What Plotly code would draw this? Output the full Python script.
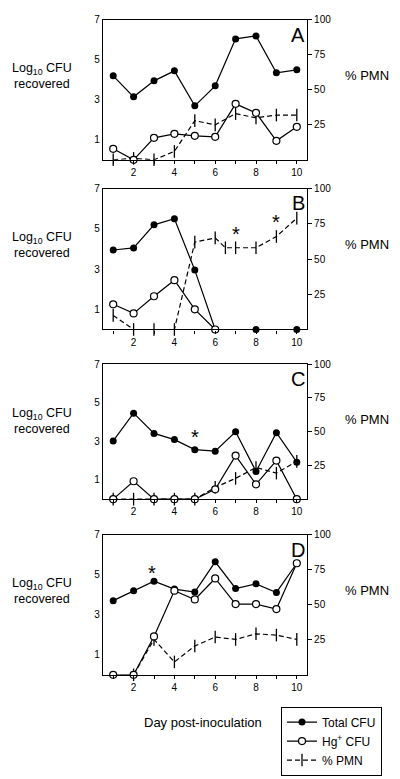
import plotly.graph_objects as go

days = [1, 2, 3, 4, 5, 6, 7, 8, 9, 10]

# Panel A
A_total = [4.2, 3.15, 3.95, 4.45, 2.7, 3.7, 6.05, 6.2, 4.35, 4.5]
A_hg = [0.55, 0.0, 1.1, 1.3, 1.2, 1.15, 2.8, 2.35, 0.95, 1.65]
A_pmn_days = [1, 2, 3, 4, 5, 6, 7, 8, 9, 10]
A_pmn = [0, 1, 0, 6, 28, 25, 33, 30, 32, 32]

# Panel B
B_total = [3.95, 4.05, 5.2, 5.5, 2.95, 0.0, None, 0.0, None, 0.0]
B_hg = [1.25, 0.8, 1.65, 2.45, 1.0, 0.0, None, None, None, None]
B_pmn_days = [1, 2, 3, 4, 5, 6, 6.5, 7, 8, 9, 10]
B_pmn = [10, 0, 0, 0, 62, 65, 58, 58, 58, 66, 79]

# Panel C
C_total = [3.02, 4.46, 3.41, 3.09, 2.57, 2.49, 3.5, 1.44, 3.45, 1.92]
C_hg = [0.0, 0.93, 0.0, 0.0, 0.0, 0.51, 2.26, 0.77, 2.0, 0.0]
C_pmn_days = [1, 2, 3, 4, 5, 6, 7, 8, 9, 10]
C_pmn = [0, 0, 0, 0, 0, 8.8, 15.4, 23.5, 19.3, 28]

# Panel D
D_total = [3.71, 4.21, 4.68, 4.29, 4.14, 5.65, 4.32, 4.55, 4.12, 5.58]
D_hg = [0.0, 0.0, 1.92, 4.21, 3.77, 4.82, 3.54, 3.54, 3.29, 5.58]
D_pmn_days = [2, 3, 4, 5, 6, 7, 8, 9, 10]
D_pmn = [0, 25.3, 9.2, 20.6, 27, 25.3, 29.3, 28.4, 25.3]

panel_letters = ["A", "B", "C", "D"]
# significance stars: (panel index, day, log10 CFU level)
star_panels = [1, 1, 2, 3]
star_days = [7, 9, 5, 2.9]
star_levels = [4.75, 5.35, 3.2, 5.1]

cfu_ticks = [1, 3, 5, 7]
pmn_ticks = [25, 50, 75, 100]

W, H = 400, 779
FONT = "Liberation Sans, Arial, sans-serif"

# panel pixel boxes (top, bottom)
boxes = [(14, 155), (184, 326), (361, 497), (533, 674)]
XL, XR = 103, 307

panels = [
    (A_total, A_hg, A_pmn_days, A_pmn),
    (B_total, B_hg, B_pmn_days, B_pmn),
    (C_total, C_hg, C_pmn_days, C_pmn),
    (D_total, D_hg, D_pmn_days, D_pmn),
]

fig = go.Figure()
layout = dict(
    width=W, height=H,
    margin=dict(l=0, r=0, t=0, b=0),
    paper_bgcolor="white", plot_bgcolor="white",
    font=dict(family=FONT, color="black", size=10),
    showlegend=True,
    legend=dict(
        x=281 / W, y=1 - 706 / H, xanchor="left", yanchor="top",
        bordercolor="black", borderwidth=1, bgcolor="white",
        font=dict(size=12, family=FONT), tracegroupgap=0,
        itemwidth=30,
    ),
)

annotations = []
for i, (tot, hg, pdays, pmn) in enumerate(panels):
    n = i + 1
    xa = "x" if n == 1 else f"x{n}"
    ya_pmn = "y" if n == 1 else f"y{n}"
    ya_cfu = f"y{n + 4}"
    top, bot = boxes[i]
    dom = [1 - bot / H, 1 - top / H]
    first = (i == 0)

    fig.add_trace(go.Scatter(
        x=pdays, y=pmn, xaxis=xa, yaxis=ya_pmn, mode="lines+markers",
        name="% PMN", showlegend=first, legendrank=3,
        line=dict(color="black", width=1.2, dash="5px,3px"),
        marker=dict(symbol="line-ns", size=9, line=dict(color="black", width=1.3)),
        cliponaxis=False,
    ))
    fig.add_trace(go.Scatter(
        x=days, y=tot, xaxis=xa, yaxis=ya_cfu, mode="lines+markers",
        name="Total CFU", showlegend=first, legendrank=1, connectgaps=False,
        line=dict(color="black", width=1.2),
        marker=dict(symbol="circle", size=7, color="black"),
        cliponaxis=False,
    ))
    fig.add_trace(go.Scatter(
        x=days, y=hg, xaxis=xa, yaxis=ya_cfu, mode="lines+markers",
        name="Hg<sup>+</sup> CFU", showlegend=first, legendrank=2, connectgaps=False,
        line=dict(color="black", width=1.2),
        marker=dict(symbol="circle", size=7, color="white", line=dict(color="black", width=1.2)),
        cliponaxis=False,
    ))

    xkey = "xaxis" if n == 1 else f"xaxis{n}"
    layout[xkey] = dict(
        domain=[XL / W, XR / W], anchor=ya_pmn, range=[0.5, 10.5],
        tick0=0, dtick=2, ticks="outside", ticklen=3,
        tickwidth=1, tickcolor="black",
        minor=dict(dtick=1, tick0=0, ticks="outside", ticklen=3, tickwidth=1, tickcolor="black", showgrid=False),
        showline=True, linecolor="black",
        linewidth=1.2, mirror=True, showgrid=False, zeroline=False,
        tickfont=dict(size=10),
    )
    ypkey = "yaxis" if n == 1 else f"yaxis{n}"
    layout[ypkey] = dict(
        domain=dom, anchor=xa, side="right", range=[0, 100],
        tickvals=pmn_ticks, ticks="outside", ticklen=4, tickwidth=1, tickcolor="black",
        showline=True, linecolor="black", linewidth=1.2, showgrid=False,
        zeroline=False, tickfont=dict(size=10),
    )
    layout[f"yaxis{n + 4}"] = dict(
        overlaying=ya_pmn, anchor=xa, side="left", range=[0, 7],
        tickvals=cfu_ticks, ticks="", showline=True, linecolor="black",
        linewidth=1.2, showgrid=False, zeroline=False, tickfont=dict(size=10),
    )

    # panel letter
    annotations.append(dict(
        text=panel_letters[i], xref="paper", yref="paper",
        x=298 / W, y=1 - (top + 15) / H, xanchor="center", yanchor="middle",
        showarrow=False, font=dict(size=20, family=FONT),
    ))
    annotations.append(dict(
        text="Log<sub>10</sub> CFU<br>recovered", xref="paper", yref="paper",
        x=42 / W, y=1 - (top + 57) / H, xanchor="center", yanchor="middle",
        showarrow=False, font=dict(size=12.5, family=FONT), align="center",
    ))
    annotations.append(dict(
        text="% PMN", xref="paper", yref="paper",
        x=367 / W, y=1 - (top + 56) / H, xanchor="center", yanchor="middle",
        showarrow=False, font=dict(size=13, family=FONT),
    ))

for p, d, lv in zip(star_panels, star_days, star_levels):
    n = p + 1
    annotations.append(dict(
        text="*", xref="x" if n == 1 else f"x{n}", yref=f"y{n + 4}",
        x=d, y=lv, xanchor="center", yanchor="middle", showarrow=False,
        font=dict(size=20, family=FONT),
    ))

annotations.append(dict(
    text="Day post-inoculation", xref="paper", yref="paper",
    x=203 / W, y=1 - 722 / H, xanchor="center", yanchor="middle",
    showarrow=False, font=dict(size=13, family=FONT),
))

layout["annotations"] = annotations
fig.update_layout(**layout)
fig.write_html(
    "out.html",
    config={"displayModeBar": False},
    post_script="document.body.style.margin='0';document.body.style.padding='0';document.body.style.overflow='hidden';",
)
